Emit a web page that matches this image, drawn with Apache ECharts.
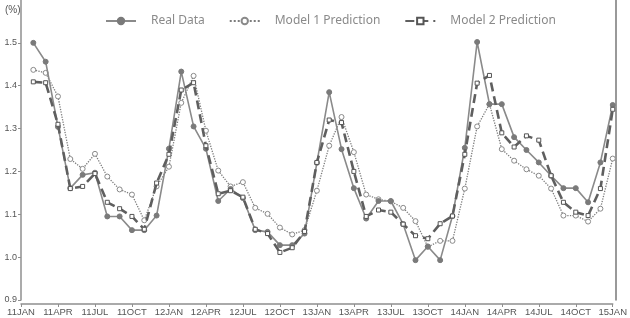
<!DOCTYPE html>
<html>
<head>
<meta charset="utf-8">
<script src="https://cdn.jsdelivr.net/npm/echarts@6.0.0/dist/echarts.min.js"></script>
<style>
html,body{margin:0;padding:0;background:#fff;}
#chartmain{width:630px;height:318px;}
</style>
</head>
<body>
<div id="chartmain"></div>
<script>
// 月份 (11JAN ~ 15JAN)
var months = ['11JAN','11FEB','11MAR','11APR','11MAY','11JUN','11JUL','11AUG','11SEP','11OCT','11NOV','11DEC',
	'12JAN','12FEB','12MAR','12APR','12MAY','12JUN','12JUL','12AUG','12SEP','12OCT','12NOV','12DEC',
	'13JAN','13FEB','13MAR','13APR','13MAY','13JUN','13JUL','13AUG','13SEP','13OCT','13NOV','13DEC',
	'14JAN','14FEB','14MAR','14APR','14MAY','14JUN','14JUL','14AUG','14SEP','14OCT','14NOV','14DEC',
	'15JAN'];

var yTicks = [0.9, 1.0, 1.1, 1.2, 1.3, 1.4, 1.5];

// Real Data
var realData = [null,
	1.50, 1.456, 1.304, 1.161, 1.192, 1.197, 1.095, 1.095, 1.063, 1.063, 1.097,
	1.253, 1.433, 1.305, 1.253, 1.131, 1.159, 1.138, 1.063, 1.059, 1.028, 1.028, 1.055,
	1.22, 1.385, 1.252, 1.161, 1.09, 1.131, 1.131, 1.077, 0.993, 1.025, 0.993, 1.096,
	1.255, 1.502, 1.357, 1.357, 1.28, 1.25, 1.221, 1.19, 1.161, 1.161, 1.128, 1.221,
	1.355];

// Model 1 Prediction
var model1Data = [null,
	1.437, 1.43, 1.375, 1.229, 1.206, 1.241, 1.188, 1.158, 1.146, 1.086, 1.165,
	1.211, 1.36, 1.423, 1.295, 1.202, 1.165, 1.175, 1.115, 1.101, 1.069, 1.053, 1.063,
	1.155, 1.26, 1.327, 1.245, 1.146, 1.135, 1.13, 1.115, 1.084, 1.024, 1.038, 1.038,
	1.16, 1.305, 1.357, 1.252, 1.225, 1.205, 1.19, 1.16, 1.097, 1.097, 1.083, 1.113,
	1.23];

// Model 2 Prediction
var model2Data = [null,
	1.409, 1.407, 1.31, 1.16, 1.165, 1.195, 1.128, 1.113, 1.095, 1.065, 1.173,
	1.24, 1.39, 1.407, 1.26, 1.148, 1.155, 1.14, 1.065, 1.055, 1.011, 1.022, 1.06,
	1.221, 1.32, 1.314, 1.2, 1.095, 1.11, 1.105, 1.077, 1.05, 1.043, 1.078, 1.096,
	1.24, 1.406, 1.424, 1.29, 1.257, 1.283, 1.273, 1.19, 1.128, 1.105, 1.097, 1.16,
	1.345];

var myChart = echarts.init(document.getElementById('chartmain'), null, {renderer: 'canvas'});

var axisColor = '#8f8f8f';

var option = {
	backgroundColor: '#fff',
	animation: false,
	title: {
		text: '(%)',
		left: 0,
		top: 0,
		textStyle: {fontSize: 10, fontWeight: 'normal', color: '#555', fontFamily: 'Liberation Sans'}
	},
	legend: {
		left: 100,
		top: 10,
		itemWidth: 30,
		itemHeight: 8,
		itemGap: 24,
		textStyle: {fontSize: 12, color: '#8a8a8a', fontFamily: 'Noto Sans', padding: [0, 0, 0, 10]},
		data: ['Real Data', 'Model 1 Prediction', 'Model 2 Prediction']
	},
	grid: {left: 21, right: 5, top: -1, bottom: 18, containLabel: false},
	xAxis: {
		type: 'category',
		boundaryGap: false,
		data: months,
		offset: 4,
		axisLine: {lineStyle: {color: axisColor, width: 1.5}},
		axisTick: {interval: 2, length: 3, lineStyle: {color: axisColor}},
		axisLabel: {
			interval: 2,
			margin: 3,
			fontSize: 9.5,
			color: '#555',
			fontFamily: 'Liberation Sans'
		},
		splitLine: {show: false}
	},
	yAxis: [{
		type: 'value',
		min: 0.9,
		max: 1.6,
		interval: 0.1,
		axisLine: {show: true, lineStyle: {color: axisColor, width: 1.5}},
		axisTick: {show: true, length: 3, lineStyle: {color: axisColor}},
		axisLabel: {
			margin: 4,
			fontSize: 9,
			color: '#555',
			fontFamily: 'Liberation Sans',
			showMaxLabel: false,
			formatter: function(v){
				if (yTicks.indexOf(Math.round(v * 10) / 10) < 0) return '';
				return v.toFixed(1);
			}
		},
		splitLine: {show: false}
	}, {
		type: 'value',
		position: 'right',
		offset: 3,
		min: 0.9,
		max: 1.6,
		interval: 0.1,
		axisLine: {show: true, lineStyle: {color: '#777', width: 1.5}},
		axisTick: {show: false},
		axisLabel: {show: false},
		splitLine: {show: false}
	}],
	series: [{
		name: 'Real Data',
		type: 'line',
		data: realData,
		symbol: 'circle',
		symbolSize: 5,
		lineStyle: {color: '#8a8a8a', width: 1.6},
		itemStyle: {color: '#7a7a7a', borderColor: '#7a7a7a', borderWidth: 1},
		z: 3
	}, {
		name: 'Model 1 Prediction',
		type: 'line',
		data: model1Data,
		symbol: 'circle',
		symbolSize: 5,
		lineStyle: {color: '#7d7d7d', width: 1.3, type: 'dotted'},
		itemStyle: {color: '#fff', borderColor: '#8a8a8a', borderWidth: 1},
		z: 2
	}, {
		name: 'Model 2 Prediction',
		type: 'line',
		data: model2Data,
		symbol: 'rect',
		symbolSize: 4,
		lineStyle: {color: '#5f5f5f', width: 2.6, type: [9, 5]},
		itemStyle: {color: '#fff', borderColor: '#555', borderWidth: 1},
		z: 4
	}]
};

myChart.setOption(option);
</script>
</body>
</html>
